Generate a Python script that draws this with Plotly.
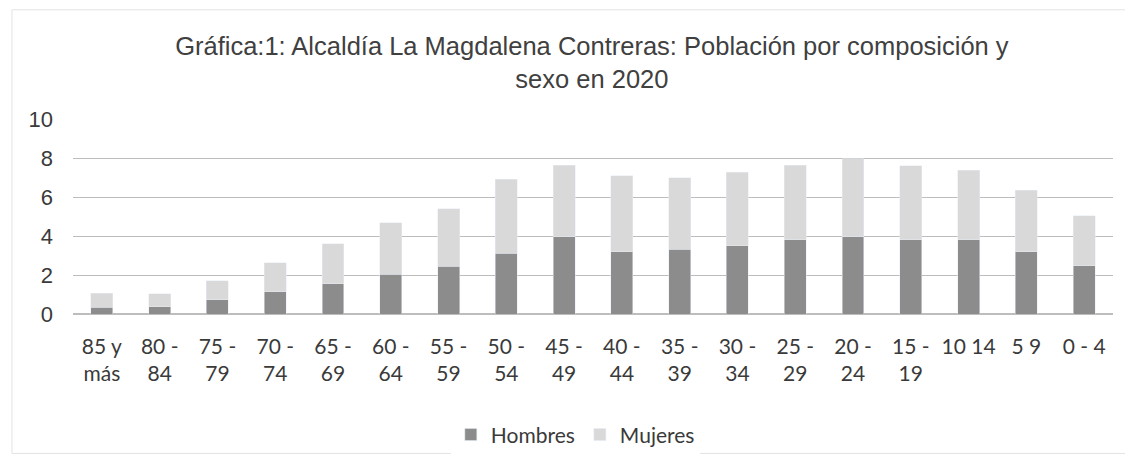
import plotly.graph_objects as go

categories = ["85 y<br>más", "80 -<br>84", "75 -<br>79", "70 -<br>74", "65 -<br>69", "60 -<br>64",
              "55 -<br>59", "50 -<br>54", "45 -<br>49", "40 -<br>44", "35 -<br>39", "30 -<br>34",
              "25 -<br>29", "20 -<br>24", "15 -<br>19", "10 14", "5 9", "0 - 4"]
hombres = [0.35, 0.37, 0.72, 1.15, 1.54, 2.03, 2.44, 3.12, 3.97, 3.2, 3.33, 3.49,
           3.8, 3.97, 3.8, 3.8, 3.2, 2.47]
mujeres = [0.72, 0.66, 0.99, 1.49, 2.06, 2.65, 2.96, 3.78, 3.66, 3.88, 3.65, 3.77,
           3.83, 4.0, 3.8, 3.57, 3.15, 2.57]
yticks = [0, 2, 4, 6, 8, 10]

fig = go.Figure()
fig.add_trace(go.Bar(x=categories, y=hombres, name="Hombres", marker_color="#8c8c8c"))
fig.add_trace(go.Bar(x=categories, y=mujeres, name="Mujeres", marker_color="#d9d9d9"))

fig.update_layout(
    barmode="stack",
    bargap=0.62,
    width=1125, height=454,
    margin=dict(l=65, r=20, t=110.5, b=147.5, autoexpand=False),
    paper_bgcolor="white", plot_bgcolor="white",
    title=dict(text="Gráfica:1: Alcaldía La Magdalena Contreras: Población por composición y<br>sexo en 2020",
               x=0.519, xanchor="center", y=0.897, yanchor="middle",
               font=dict(family="Liberation Sans, Arial", size=25.5, color="#404040")),
    font=dict(family="Lato, Open Sans", size=21, color="#3a3a3a"),
    showlegend=True,
    legend=dict(orientation="h", x=0.483, xanchor="center", y=-0.62, yanchor="middle",
                font=dict(size=21, color="#3a3a3a"), itemwidth=30, traceorder="normal"),
    xaxis=dict(showgrid=False, showline=False, ticks="", tickangle=0, ticklabelstandoff=18,
               automargin=False, tickfont=dict(size=21, color="#3a3a3a")),
    yaxis=dict(range=[0, 10], tickvals=yticks, showgrid=True, gridcolor="#bdbdbd", gridwidth=1,
               zeroline=True, zerolinecolor="#bdbdbd", showline=False, ticks="", ticklabelstandoff=19,
               automargin=False, tickfont=dict(family="Liberation Sans, Arial", size=22, color="#3a3a3a")),
    shapes=[dict(type="rect", xref="paper", yref="paper", x0=-0.0587, x1=1.015, y0=-0.715, y1=1.56,
                 line=dict(color="#e3e3e3", width=1))],
)

fig.write_html("out.html")
